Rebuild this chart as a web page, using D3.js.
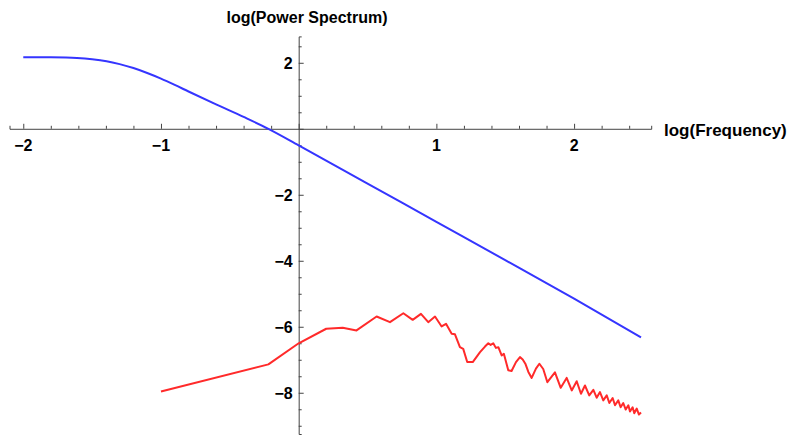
<!DOCTYPE html>
<html>
<head>
<meta charset="utf-8">
<script src="https://cdn.jsdelivr.net/npm/d3@7"></script>
<style>
  body { margin: 0; background: #fff; }
  svg text { font-family: "Liberation Sans", Arial, sans-serif; font-weight: bold; fill: #000; }
</style>
</head>
<body>
<div id="chart"></div>
<script>
// blue: model spectrum (log f, log P)
var blueX = [-2.0, -1.8, -1.61, -1.5, -1.395, -1.3, -1.2, -1.1, -1.0, -0.9, -0.8, -0.6, -0.4, -0.22, 0.0, 0.5, 1.0, 1.5, 2.0, 2.486];
var blueY = [2.17, 2.165, 2.145, 2.11, 2.05, 1.96, 1.84, 1.69, 1.52, 1.33, 1.13, 0.74, 0.36, 0.0, -0.5, -1.66, -2.82, -3.98, -5.15, -6.32];

// red: measured spectrum
var redX = [-1.0, -0.22, 0.0, 0.2, 0.32, 0.42, 0.566, 0.663, 0.76, 0.828, 0.888, 0.941, 0.99, 1.038, 1.07,
    1.111, 1.135, 1.171, 1.195, 1.224, 1.264, 1.317, 1.353, 1.377, 1.394, 1.413, 1.432, 1.45, 1.474, 1.49,
    1.522, 1.546, 1.578, 1.607, 1.627, 1.646, 1.668, 1.692, 1.723, 1.748, 1.776, 1.806, 1.861, 1.903, 1.946,
    1.983, 2.019, 2.05, 2.079, 2.11, 2.14, 2.164, 2.188, 2.212, 2.237, 2.256, 2.28, 2.297, 2.321, 2.338,
    2.357, 2.375, 2.394, 2.406, 2.425, 2.437, 2.455, 2.471, 2.486];
var redY = [-7.96, -7.14, -6.5, -6.06, -6.03, -6.11, -5.69, -5.86, -5.59, -5.79, -5.61, -5.86, -5.69, -5.99, -5.91,
    -6.21, -6.23, -6.62, -6.67, -7.07, -7.07, -6.77, -6.6, -6.5, -6.55, -6.5, -6.64, -6.62, -6.87, -6.82,
    -7.32, -7.34, -7.07, -6.92, -6.99, -7.12, -7.37, -7.55, -7.27, -7.12, -7.28, -7.68, -7.38, -7.85, -7.55,
    -7.93, -7.65, -8.03, -7.78, -8.08, -7.91, -8.15, -7.98, -8.23, -8.08, -8.31, -8.16, -8.38, -8.23, -8.44,
    -8.31, -8.51, -8.38, -8.57, -8.44, -8.62, -8.48, -8.66, -8.6];

var xMajor = [-2, -1, 1, 2];
var yMajor = [-8, -6, -4, -2, 2];

var width = 791, height = 435;

var x = d3.scaleLinear().domain([-2.1, 2.56]).range([9.5, 651.2]);
var y = d3.scaleLinear().domain([2.8, -9.25]).range([36.4, 434]);

var svg = d3.select("#chart").append("svg")
    .attr("width", width)
    .attr("height", height);

// x axis, ticks pointing up
var xAxis = d3.axisTop(x)
    .tickValues(d3.range(-20, 25, 2).map(function (d) { return d / 10; }))
    .tickSize(3)
    .tickFormat("");
svg.append("g")
    .attr("transform", "translate(0," + y(0) + ")")
    .call(xAxis)
    .call(function (g) {
        g.selectAll(".tick line").attr("y2", function (d) {
            return (Math.abs(d - Math.round(d)) < 1e-6) ? -5 : -3;
        });
    });

// y axis, ticks pointing right
var yAxis = d3.axisRight(y)
    .tickValues(d3.range(-18, 6, 1).map(function (d) { return d / 2; }))
    .tickSize(3)
    .tickFormat("");
svg.append("g")
    .attr("transform", "translate(" + x(0) + ",0)")
    .call(yAxis)
    .call(function (g) {
        g.selectAll(".tick line").attr("x2", function (d) {
            return (d % 2 === 0) ? 5 : 3;
        });
    });

svg.selectAll(".domain").attr("stroke", "#444");
svg.selectAll(".tick line").attr("stroke", "#444");

// tick labels
svg.selectAll(".xlab")
    .data(xMajor)
    .enter().append("text")
    .attr("class", "xlab")
    .attr("x", function (d) { return x(d); })
    .attr("y", y(0) + 22)
    .attr("text-anchor", "middle")
    .style("font-size", "16px")
    .text(function (d) { return d < 0 ? "\u2212" + Math.abs(d) : d; });

svg.selectAll(".ylab")
    .data(yMajor)
    .enter().append("text")
    .attr("class", "ylab")
    .attr("x", x(0) - 6)
    .attr("y", function (d) { return y(d); })
    .attr("dy", "0.36em")
    .attr("text-anchor", "end")
    .style("font-size", "16px")
    .text(function (d) { return d < 0 ? "\u2212" + Math.abs(d) : d; });

// axis titles
svg.append("text")
    .attr("x", 307)
    .attr("y", 23)
    .attr("text-anchor", "middle")
    .style("font-size", "16px")
    .text("log(Power Spectrum)");

svg.append("text")
    .attr("x", 664)
    .attr("y", y(0) + 7)
    .style("font-size", "17px")
    .text("log(Frequency)");

// curves
var blueData = blueX.map(function (d, i) { return [d, blueY[i]]; });
var redData = redX.map(function (d, i) { return [d, redY[i]]; });

var smooth = d3.line()
    .x(function (d) { return x(d[0]); })
    .y(function (d) { return y(d[1]); })
    .curve(d3.curveMonotoneX);

var straight = d3.line()
    .x(function (d) { return x(d[0]); })
    .y(function (d) { return y(d[1]); });

svg.append("path")
    .datum(blueData)
    .attr("d", smooth)
    .attr("fill", "none")
    .attr("stroke", "#3535ff")
    .attr("stroke-width", 2);

svg.append("path")
    .datum(redData)
    .attr("d", straight)
    .attr("fill", "none")
    .attr("stroke", "#ff2a2a")
    .attr("stroke-width", 2)
    .attr("stroke-linejoin", "round");
</script>
</body>
</html>
